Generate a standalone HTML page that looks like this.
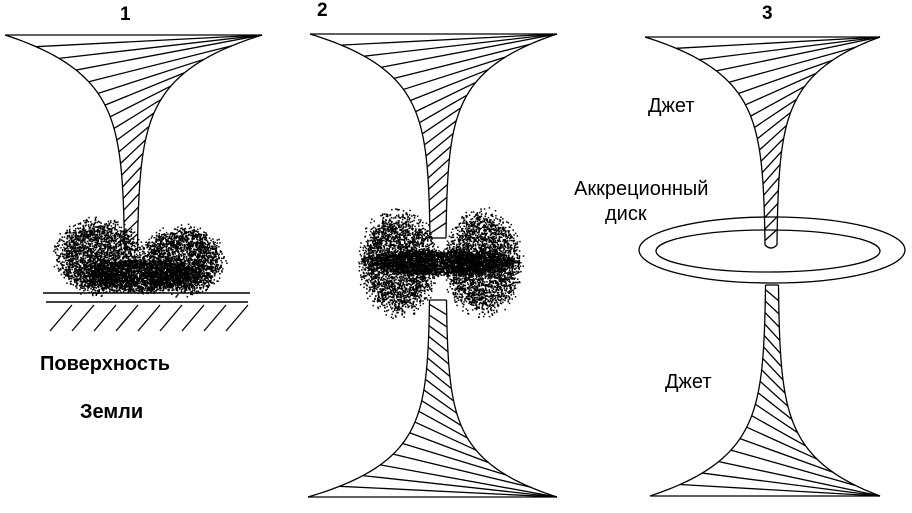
<!DOCTYPE html>
<html><head><meta charset="utf-8"><style>
html,body{margin:0;padding:0;background:#fff;width:912px;height:513px;overflow:hidden}
svg{display:block}
text{font-family:"Liberation Sans",sans-serif;font-weight:bold;fill:#000}
.n{font-weight:normal}
</style></head><body>
<svg id="s" width="912" height="513" viewBox="0 0 912 513" xmlns="http://www.w3.org/2000/svg">
<g id="d" fill="#000"></g>
<g id="g" fill="none" stroke="#000" stroke-width="1.3"></g>
<g fill="none" stroke="#000" stroke-width="1.5">
<line x1="43" y1="293" x2="250" y2="293"/>
<line x1="46" y1="302" x2="248" y2="302"/>
</g>
<text x="120" y="20" font-size="19">1</text>
<text x="317" y="16" font-size="19">2</text>
<text x="762" y="19" font-size="19">3</text>
<text x="40" y="370" font-size="20">Поверхность</text>
<text x="80" y="418" font-size="20">Земли</text>
<text x="648" y="112" font-size="20" class="n">Джет</text>
<text x="574" y="195" font-size="20" class="n">Аккреционный</text>
<text x="605" y="220" font-size="20" class="n">диск</text>
<text x="665" y="388" font-size="20" class="n">Джет</text>
</svg>
<script>
var g=document.getElementById('g'),d=document.getElementById('d'),NS='http://www.w3.org/2000/svg';
function el(n,a,p){var e=document.createElementNS(NS,n);for(var k in a)e.setAttribute(k,a[k]);(p||g).appendChild(e);return e;}
var K=5.5,E=Math.exp(-K);
function gf(s){return (Math.exp(-K*s)-E)/(1-E);}
function funnel(cx,yW,yN,lx,rx,wn,n,round){
 function L(s){return [cx-wn-(cx-wn-lx)*gf(s), yW+(yN-yW)*s];}
 function R(s){return [cx+wn+(rx-cx-wn)*gf(s), yW+(yN-yW)*s];}
 var pl=[],pr=[];for(var i=0;i<=100;i++){var s=i/100;pl.push(L(s).join(','));pr.push(R(s).join(','));}
 el('polyline',{points:pl.join(' ')});el('polyline',{points:pr.join(' ')});
 el('line',{x1:lx,y1:yW,x2:rx,y2:yW});
 for(var j=1;j<=n;j++){var s=j/(n+0.4);var a=L(s),b=R(Math.max(0,s*1.15-0.2));
  el('line',{x1:a[0],y1:a[1],x2:b[0],y2:b[1]});}
 var e=L(1),f=R(1);
 if(round){el('path',{d:'M'+e[0]+','+e[1]+' Q'+((e[0]+f[0])/2)+','+(e[1]+(yN>yW?6:-6))+' '+f[0]+','+f[1]});}
 else el('line',{x1:e[0],y1:e[1],x2:f[0],y2:f[1]});
}
el('ellipse',{cx:772,cy:250,rx:133,ry:33,fill:'none'});
el('ellipse',{cx:768,cy:251,rx:112,ry:21,fill:'none'});
funnel(131,35,250,5,262,6.5,18);
funnel(438,34,238,310,557,8,18);
funnel(438,497,300,308,557,8.5,18);
funnel(771,37,245,645,880,6,18,true);
funnel(772,496,285,650,880,6.5,18);
for(var i=0;i<9;i++){el('line',{x1:50+i*22,y1:331,x2:72+i*22,y2:305});}
var seed=7;function rnd(){seed=(seed*16807)%2147483647;return seed/2147483647;}
function blob(cx,cy,rx,ry,n){for(var i=0;i<n;i++){var a=rnd()*6.283,rr=Math.sqrt(rnd())*(0.75+0.35*rnd());
 var x=cx+Math.cos(a)*rx*rr,y=cy+Math.sin(a)*ry*rr;
 el('rect',{x:x.toFixed(1),y:y.toFixed(1),width:1.5,height:1.5},d);}}
blob(98,256,43,37,2400);blob(182,260,42,34,2300);blob(140,275,62,17,2400);
blob(398,262,38,52,2600);blob(482,262,38,52,2600);blob(440,262,78,13,3000);
</script>
</body></html>
